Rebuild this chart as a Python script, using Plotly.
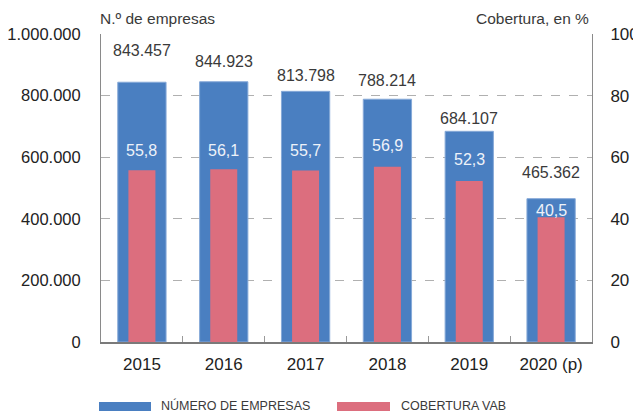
import plotly.graph_objects as go

years = ["2015", "2016", "2017", "2018", "2019", "2020 (p)"]
empresas = [843457, 844923, 813798, 788214, 684107, 465362]
cobertura = [55.8, 56.1, 55.7, 56.9, 52.3, 40.5]
left_ticks = [0, 200000, 400000, 600000, 800000, 1000000]
right_ticks = [0, 20, 40, 60, 80, 100]

# label pixel offsets (layout styling)
emp_off = [32, 20, 16, 19, 13, 26]
cob_off = [20, 19, 20, 21, 21, 7]

BLUE = "#4a7fc1"
RED = "#dc6e7e"
FONT = "Liberation Sans, Arial, sans-serif"
NARROW = "Liberation Sans Narrow, Arial Narrow, Liberation Sans, sans-serif"

fig = go.Figure()
fig.add_trace(go.Bar(x=years, y=empresas, width=0.59, marker=dict(color=BLUE, line=dict(color="#86a9d8", width=1)),
                     yaxis="y", showlegend=False, hoverinfo="skip"))
fig.add_trace(go.Bar(x=years, y=cobertura, width=0.33, marker=dict(color=RED, line=dict(width=0)),
                     yaxis="y2", showlegend=False, hoverinfo="skip"))

def fmt_int(v):
    return f"{v:,}".replace(",", ".")

def fmt_pct(v):
    return f"{v:.1f}".replace(".", ",")

ann = []
for i, (v, o) in enumerate(zip(empresas, emp_off)):
    ann.append(dict(x=i, y=v, xref="x", yref="y", text=fmt_int(v), showarrow=False, yshift=o,
                    yanchor="middle", font=dict(family=FONT, size=16, color="#3a3a3a")))
for i, (v, o) in enumerate(zip(cobertura, cob_off)):
    ann.append(dict(x=i, y=v, xref="x", yref="y2", text=fmt_pct(v), showarrow=False, yshift=o,
                    yanchor="middle", font=dict(family=FONT, size=16, color="#eef2f9")))

ann.append(dict(x=0, y=1.0, xref="paper", yref="paper", xanchor="left", yanchor="bottom", yshift=5, xshift=-3,
                text="N.º de empresas", showarrow=False, font=dict(family=FONT, size=15.5, color="#3a3a3a")))
ann.append(dict(x=1, y=1.0, xref="paper", yref="paper", xanchor="right", yanchor="bottom", yshift=5, xshift=-1,
                text="Cobertura, en %", showarrow=False, font=dict(family=FONT, size=15.5, color="#3a3a3a")))

# custom legend (positions in page pixels converted to paper)
W = 491.0
H = 308.0
def px_x(p):
    return (p - 101) / W
def px_y(p):
    return (342 - p) / H

shapes = [
    dict(type="rect", xref="paper", yref="paper", x0=px_x(99), x1=px_x(151), y0=px_y(411), y1=px_y(402),
         fillcolor=BLUE, line=dict(width=0)),
    dict(type="rect", xref="paper", yref="paper", x0=px_x(337), x1=px_x(390), y0=px_y(411), y1=px_y(402),
         fillcolor=RED, line=dict(width=0)),
]
ann.append(dict(x=px_x(159), y=px_y(405.5), xref="paper", yref="paper", xanchor="left", yanchor="middle",
                text="NÚMERO DE EMPRESAS", showarrow=False, font=dict(family=NARROW, size=12.5, color="#3a3a3a")))
ann.append(dict(x=px_x(399), y=px_y(405.5), xref="paper", yref="paper", xanchor="left", yanchor="middle",
                text="COBERTURA VAB", showarrow=False, font=dict(family=NARROW, size=12.5, color="#3a3a3a")))

# page has an 8px body margin: figure is 633x406 placed at (8, 8)
fig.update_layout(
    width=633, height=406,
    margin=dict(l=93, r=49, t=26, b=72),
    paper_bgcolor="white", plot_bgcolor="white",
    separators=",.",
    barmode="overlay",
    showlegend=False,
    font=dict(family=FONT, color="#222"),
    xaxis=dict(type="category", range=[-0.5, len(years) - 0.5], showline=True, linecolor="#7a7a7a", linewidth=2,
               ticks="inside", tickson="boundaries", ticklen=6, tickcolor="#9a9a9a",
               tickfont=dict(family=FONT, size=17, color="#222"), ticklabelstandoff=6, tickangle=0,
               showgrid=False, mirror=False, automargin=False),
    yaxis=dict(range=[0, 1000000], tickvals=left_ticks, tickformat=",d",
               showline=True, linecolor="#8a8a8a", linewidth=1,
               showgrid=True, gridcolor="#b0b0b0", griddash="dash", gridwidth=1,
               zeroline=False, ticks="", tickfont=dict(family=FONT, size=16.5, color="#222"),
               ticklabelstandoff=16, automargin=False),
    yaxis2=dict(range=[0, 100], tickvals=right_ticks, overlaying="y", side="right",
                showline=True, linecolor="#8a8a8a", linewidth=1, showgrid=False, zeroline=False,
                ticks="", tickfont=dict(family=FONT, size=17, color="#222"), ticklabelstandoff=14,
                automargin=False),
    annotations=ann,
    shapes=shapes,
)

fig.write_html("out.html")
